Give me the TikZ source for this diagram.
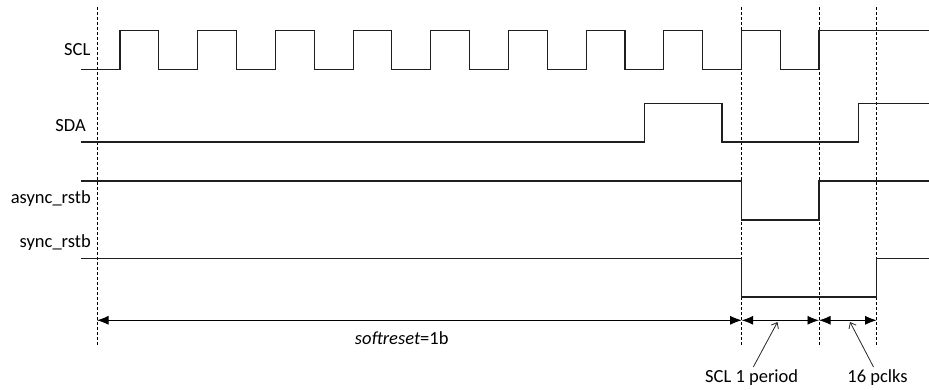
\documentclass[tikz,border=0pt]{standalone}
\usepackage{fontspec}
\setmainfont{Carlito}
\usetikzlibrary{arrows.meta}
\begin{document}
\begin{tikzpicture}[x=1pt,y=-1pt,
  sig/.style={draw=black!88,line width=1.1pt},
  guide/.style={draw=black,line width=0.7pt,dash pattern=on 3pt off 2pt},
  dim/.style={draw=black,line width=0.9pt,{Latex[length=11.5pt,width=9pt]}-{Latex[length=11.5pt,width=9pt]}},
  ptr/.style={draw=black!85,line width=0.8pt,-{Straight Barb[length=5pt,width=8pt]}},
  lbl/.style={inner sep=0pt,font=\fontsize{18.5}{22}\selectfont}]
\useasboundingbox (0,0) rectangle (929,390);
% guides
\foreach \n/\x in {g0/97,g1/741.7,g2/819,g3/876.7}{
  \coordinate (\n t) at (\x,7);
  \coordinate (\n b) at (\x,346.7);
  \coordinate (\n a) at (\x,320.3);
  \draw[guide] (\n t) -- (\n b);
}
% signal labels
\node[lbl,anchor=base east] (scl) at (90.5,56) {SCL};
\node[lbl,anchor=base east] (sda) at (86,132) {SDA};
\node[lbl,anchor=base east] (arst) at (91,203.3) {async\_rstb};
\node[lbl,anchor=base east] (srst) at (91,247.3) {sync\_rstb};
% SCL
\draw[sig] (81,69.3) foreach \i in {0,...,8} { -| (120+77.7*\i,30.7) -| (158.8+77.7*\i,69.3) } -| (819,30.7) -- (929,30.7);
% SDA
\draw[sig] (81,142) -| (644.3,103.3) -| (722,142) -| (858.3,103.3) -- (929,103.3);
% async_rstb
\draw[sig] (81,181) -| (741.7,220) -| (819,181) -- (929,181);
% sync_rstb
\draw[sig] (81,258.7) -| (741.7,297) -| (876.7,258.7) -- (929,258.7);
% dimensions
\draw[dim] (g0a) -- (g1a);
\draw[dim] (g1a) -- (g2a);
\draw[dim] (g2a) -- (g3a);
\node[lbl,anchor=base] (soft) at (401.7,344.3) {\textit{softreset}=1b};
\node[lbl,anchor=base] (per) at (751.7,382.7) {SCL 1 period};
\node[lbl,anchor=base] (pcl) at (877.5,382.7) {16 pclks};
\coordinate (p1s) at (753.3,367);
\coordinate (p1e) at (777.5,322);
\coordinate (p2s) at (873.5,367);
\coordinate (p2e) at (850,322);
\draw[ptr] (p1s) -- (p1e);
\draw[ptr] (p2s) -- (p2e);
\end{tikzpicture}
\end{document}
